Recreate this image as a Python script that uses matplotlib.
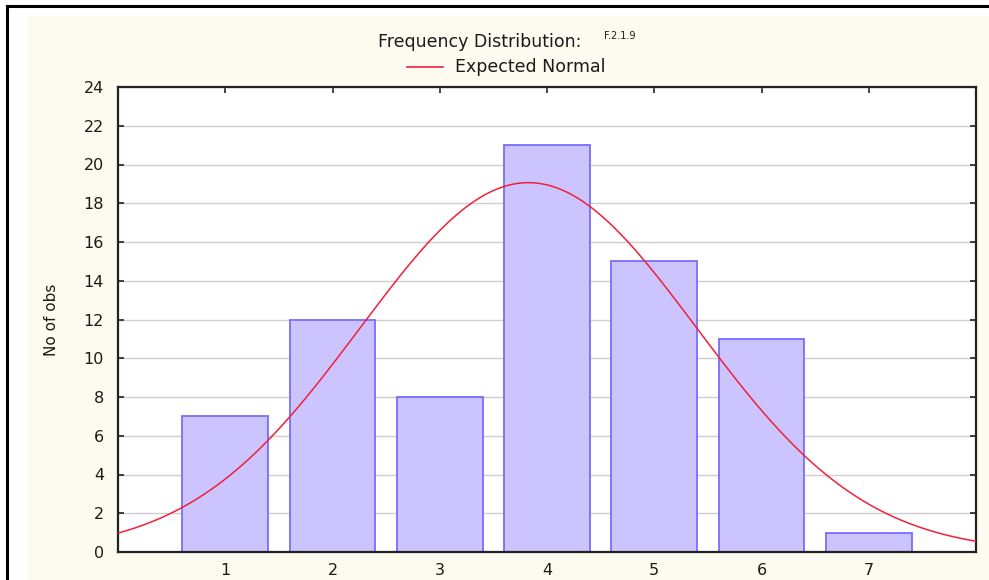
import numpy as np
import matplotlib
matplotlib.use("Agg")
import matplotlib.pyplot as plt
from matplotlib.lines import Line2D
from matplotlib.patches import Rectangle

# ── data ──────────────────────────────────────────────────────────────────────
categories = [1, 2, 3, 4, 5, 6, 7]
counts = [7, 12, 8, 21, 15, 11, 1]
y_ticks = list(range(0, 25, 2))

# expected normal curve from the observed counts
cats = np.array(categories, dtype=float)
cnt = np.array(counts, dtype=float)
n_obs = cnt.sum()
mu = (cats * cnt).sum() / n_obs
sd = np.sqrt(((cats - mu) ** 2 * cnt).sum() / n_obs)

plt.rcParams["font.family"] = ["DejaVu Sans"]
CREAM = "#FDFBF0"
BAR_FILL = "#CCC4FF"
BAR_EDGE = "#7A6CFF"
CURVE = "#F0203A"
GRID = "#CFCFCF"
SPINE = "#222222"
TXT = "#1A1A1A"

fig = plt.figure(figsize=(9.89, 5.80), dpi=100)
fig.patch.set_facecolor("white")

# cream panel + black frame (cropped screenshot look)
fig.add_artist(Rectangle((28 / 989, 0), 1, 1 - 16 / 580, transform=fig.transFigure,
                         facecolor=CREAM, edgecolor="none", zorder=0))
fig.add_artist(Line2D([7 / 989, 1], [1 - 6 / 580] * 2, transform=fig.transFigure,
                      color="black", linewidth=2.2))
fig.add_artist(Line2D([7 / 989] * 2, [0, 1 - 6 / 580], transform=fig.transFigure,
                      color="black", linewidth=2.2))

ax = fig.add_axes([118 / 989, 1 - 552 / 580, 858 / 989, 465 / 580])
ax.set_facecolor("white")

ax.bar(categories, counts, width=0.8, color=BAR_FILL, edgecolor=BAR_EDGE,
       linewidth=1.3, zorder=2)

xs = np.linspace(0, 8, 400)
ys = n_obs * np.exp(-0.5 * ((xs - mu) / sd) ** 2) / (sd * np.sqrt(2 * np.pi))
ax.plot(xs, ys, color=CURVE, linewidth=1.1, zorder=3)

ax.set_xlim(0, 8)
ax.set_ylim(0, 24)
ax.set_xticks(categories)
ax.set_yticks(y_ticks)
ax.tick_params(direction="in", length=4, width=1.2, color=SPINE,
               labelsize=11.5, labelcolor=TXT, top=True, right=True,
               labeltop=False, labelright=False)
ax.tick_params(axis="x", pad=8)
ax.tick_params(axis="y", pad=10)
ax.yaxis.grid(True, color=GRID, linewidth=1.0, zorder=1)
ax.set_axisbelow(True)
for s in ax.spines.values():
    s.set_color(SPINE)
    s.set_linewidth(1.6)

ax.set_ylabel("No of obs", fontsize=11, color=TXT, labelpad=18)

# header: title and legend
fig.text(378 / 989, 1 - 42 / 580, "Frequency Distribution:", fontsize=12.5,
         color=TXT, ha="left", va="center")
fig.text(604 / 989, 1 - 36 / 580, "F.2.1.9", fontsize=7,
         color=TXT, ha="left", va="center")
fig.add_artist(Line2D([407 / 989, 443 / 989], [1 - 67 / 580] * 2,
                      transform=fig.transFigure, color=CURVE, linewidth=1.2))
fig.text(455 / 989, 1 - 67 / 580, "Expected Normal", fontsize=12.5,
         color=TXT, ha="left", va="center")

fig.savefig("out.png", dpi=100, facecolor="white")
